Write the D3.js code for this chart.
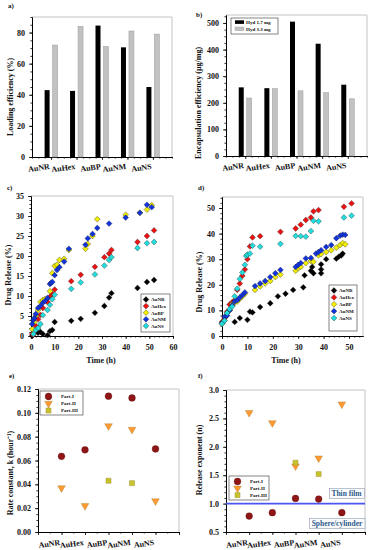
<!DOCTYPE html>
<html>
<head>
<meta charset="utf-8">
<script src="https://cdn.jsdelivr.net/npm/d3@7"></script>
<style>
body { margin: 0; background: #fff; }
svg { display: block; }
text { font-family: "Liberation Serif", "Times New Roman", serif; font-weight: bold; fill: #111; }
</style>
</head>
<body>
<div id="chart"></div>
<script>
// categories
const materials = ["AuNR", "AuHex", "AuBP", "AuNM", "AuNS"];
const barSeries = ["Hyd 1.7 mg", "Hyd 3.3 mg"];

// a) loading efficiency (%)
const loadHyd17 = [43, 42.5, 84.5, 70.5, 45];
const loadHyd33 = [72, 84, 71, 81, 79];
// b) encapsulation efficiency (ug/mg)
const encHyd17 = [258, 255, 505, 422, 268];
const encHyd33 = [218, 253, 245, 238, 215];

// c) drug release, [time h, release %]
const cAuNR = [[0.5,0],[3,0.8],[4,1],[5,0.5],[7,0.2],[8,1.2],[9,1.5],[10,3.5],[17,3.8],[21,4.3],[27,5.8],[31,7.5],[33,9.6],[34,10.7],[45,12],[49,13.5],[52,14]];
const cAuHex = [[0.5,0.5],[1,0.3],[2,2.5],[3,4.2],[4,5.3],[5,7],[7,8.5],[8,9.8],[9,10.5],[10,11.6],[17,13.7],[21,15.3],[27,17.3],[31,19.7],[33,20.6],[34,21.5],[45,23.5],[49,25],[52,26.4]];
const cAuBP = [[0.5,1.7],[1.5,3.5],[2,5],[3,6.5],[4,8.5],[5,9],[6,9.3],[8,11.2],[9,15.7],[10,17.5],[11,17.8],[12,19],[14,19.3],[16,21.5],[23,21.8],[24,23],[26,25],[28,29.2],[40,30.3],[46,30.8],[49,31.6],[51,32.7]];
const cAuNM = [[0.5,3],[1,4],[1.5,4.5],[2,5.5],[3,7],[4,7.5],[5,8.3],[6,8.8],[7,9.5],[8,13],[8.5,13.3],[9,13.5],[10,15.2],[11,16.5],[12,17.2],[14,18.6],[16,21.8],[23,22.8],[24,24.4],[26,25.5],[28,27],[33,28.1],[40,29.6],[46,30.8],[49,32.8],[51,32.2]];
const cAuNS = [[1,0.5],[2,1.5],[3,2],[4,3],[5,5.2],[7,6.5],[8,7.8],[9,9.2],[10,10.3],[17,11.8],[21,13.4],[27,15.4],[31,17.6],[33,19],[34,19.7],[45,22],[49,23.2],[52,23.5]];

// d) drug release, [time h, release %]
const dAuNR = [[5,5.5],[7,7],[10,6.3],[11,9.5],[12,9.2],[15,11.3],[19,12.8],[22,15.5],[25,16.5],[28,18],[32,19],[32.5,23.7],[35,25.5],[35.5,27],[36,24.5],[39,28],[39,26],[39,24.5],[41,30],[45,30.2],[46,31],[47,31.5],[47.5,32.2]];
const dAuHex = [[0,5.5],[1,7],[2,9.5],[3,12.3],[4,13.2],[5,14],[6,18],[7,20.5],[8,23.5],[9,26],[10,30],[11,35],[12,38.5],[15,39],[23,40.7],[29,42],[31,43.5],[33,45.3],[35,46.3],[36,48.7],[38,49.2],[48,50.5],[51,51.8]];
const dAuBP = [[0,4.8],[1,6],[2,9],[3,10],[4,12.5],[5,13],[6,13.5],[7,14.5],[8,15.5],[9,16.5],[13,18],[15,19.3],[17,20.5],[19,21.5],[21,23],[23,24],[29,25.5],[30,26.5],[31,27],[33,28.5],[35,29.3],[36,29],[38,31.5],[39,32],[41,32.8],[43,33.5],[45,34.5],[46.5,35.5],[47.5,36.3],[48.5,35.8]];
const dAuNM = [[0,5],[1,7.5],[2,8],[3,10],[4,12],[5,13.5],[6,14],[7,15],[8,16],[9,17],[13,19.5],[15,20.5],[17,21.5],[19,23],[21,24.5],[23,25.8],[29,27],[30,27.8],[31,28.5],[33,30.3],[35,30.5],[37,32.2],[38,32.8],[39,33.5],[41,34.8],[43,35.5],[45,38.2],[46.5,39.2],[47.5,39.6],[48.5,39.5]];
const dAuNS = [[0,4.8],[1,6],[2,9],[3,10.5],[4,11.5],[5,15.5],[6,18.5],[7,22.3],[8,24.8],[9,27.8],[9.5,31.3],[10,31.8],[11,32.2],[12,35.3],[15,34.9],[23,36],[29,39.1],[31,39],[33,38.8],[35,41],[36,45],[38,44.8],[48,46.3],[51,47]];

// e) rate constant k (1/hour), f) release exponent n
const parts = ["Part-I", "Part-II", "Part-III"];
const kPart1 = [0.0635, 0.069, 0.114, 0.1125, 0.0697];
const kPart2 = [0.037, 0.022, 0.089, 0.086, 0.026];
const kPart3 = [null, null, 0.043, 0.041, null];
const nPart1 = [0.78, 0.84, 1.09, 1.08, 0.84];
const nPart2 = [2.6, 2.42, 1.66, 1.8, 2.75];
const nPart3 = [null, null, 1.72, 1.52, null];

const matColors = ["#000000", "#ee1111", "#f2ee00", "#1133dd", "#22dddd"];
const partColors = ["#8e1616", "#ff9a33", "#c6c42c"];
const partShapes = [d3.symbolCircle, d3.symbolTriangle, d3.symbolSquare];

const svg = d3.select("#chart").append("svg")
	.attr("width", 373)
	.attr("height", 550);

// frame, axes and titles for one panel
function makePanel(p) {
	const x = d3.scaleLinear().domain(p.xd).range([p.l, p.r]);
	const y = d3.scaleLinear().domain(p.yd).range([p.b, p.t]);
	const g = svg.append("g");

	g.append("path")
		.attr("d", `M${p.l},${p.t}H${p.r}V${p.b}`)
		.attr("fill", "none")
		.attr("stroke", "#c4c4c4")
		.attr("stroke-width", 1);

	// minor ticks
	g.append("g")
		.attr("transform", `translate(${p.l},0)`)
		.call(d3.axisLeft(y).tickValues(d3.range(p.yd[0], p.yd[1] + 1e-9, p.ym)).tickSize(1.6).tickSizeOuter(0).tickFormat(""));
	g.append("g")
		.attr("transform", `translate(0,${p.b})`)
		.call(d3.axisBottom(x).tickValues(d3.range(p.xd[0], p.xd[1] + 1e-9, p.xm)).tickSize(1.6).tickSizeOuter(0).tickFormat(""));

	// major ticks
	const yAxis = g.append("g")
		.attr("transform", `translate(${p.l},0)`)
		.call(d3.axisLeft(y).tickValues(p.yt).tickSize(3).tickSizeOuter(0).tickPadding(4).tickFormat(p.yf));
	const xAxis = g.append("g")
		.attr("transform", `translate(0,${p.b})`)
		.call(d3.axisBottom(x).tickValues(p.xt).tickSize(3).tickSizeOuter(0).tickPadding(5).tickFormat(p.xf || ""));

	g.selectAll(".domain").attr("stroke", "#000").attr("stroke-width", 1);
	g.selectAll(".tick line").attr("stroke", "#000").attr("stroke-width", 0.8);
	yAxis.selectAll("text").style("font-size", "8px");
	xAxis.selectAll("text").style("font-size", "8px");

	// category labels, slightly tilted
	if (p.cats) {
		g.selectAll(".cat")
			.data(materials)
			.join("text")
			.attr("class", "cat")
			.attr("text-anchor", "end")
			.attr("transform", (d, i) => `translate(${x(i + 1) - 1},${p.b + p.catDy}) rotate(-8)`)
			.style("font-size", "8px")
			.text(d => d);
	}

	g.append("text")
		.attr("transform", `translate(${p.ytx},${p.yty}) rotate(-90)`)
		.attr("text-anchor", "middle")
		.attr("dy", "0.35em")
		.style("font-size", "8px")
		.text(p.ytitle);

	if (p.xtitle) {
		g.append("text")
			.attr("x", p.xtx)
			.attr("y", p.xty)
			.attr("text-anchor", "middle")
			.style("font-size", "8px")
			.text(p.xtitle);
	}

	g.append("text")
		.attr("x", p.lx)
		.attr("y", p.ly)
		.style("font-size", "7px")
		.text(p.label);

	return { g, x, y };
}

function legendBox(g, x0, y0, w, h) {
	g.append("rect")
		.attr("x", x0).attr("y", y0)
		.attr("width", w).attr("height", h)
		.attr("fill", "#fff")
		.attr("stroke", "#333")
		.attr("stroke-width", 0.6);
}

// ---------- bar panels a, b ----------
function barPanel(p, black, grey, withLegend) {
	const { g, x, y } = makePanel(p);
	const bw = 5, gap = 3;
	g.selectAll(".b1").data(black).join("rect")
		.attr("x", (d, i) => x(i + 1) - gap / 2 - bw)
		.attr("y", d => y(d))
		.attr("width", bw)
		.attr("height", d => y(p.yd[0]) - y(d))
		.attr("fill", "#000");
	g.selectAll(".b2").data(grey).join("rect")
		.attr("x", (d, i) => x(i + 1) + gap / 2)
		.attr("y", d => y(d))
		.attr("width", bw)
		.attr("height", d => y(p.yd[0]) - y(d))
		.attr("fill", "#c2c2c2")
		.attr("stroke", "#9a9a9a")
		.attr("stroke-width", 0.5);

	if (withLegend) {
		legendBox(g, 231, 18, 47, 16);
		barSeries.forEach((s, i) => {
			g.append("rect")
				.attr("x", 235).attr("y", 20.3 + i * 6.7)
				.attr("width", 9).attr("height", 3.6)
				.attr("fill", i === 0 ? "#000" : "#c2c2c2")
				.attr("stroke", i === 0 ? "none" : "#999")
				.attr("stroke-width", 0.4);
			g.append("text")
				.attr("x", 246).attr("y", 24.3 + i * 6.7)
				.style("font-size", "5px")
				.text(s);
		});
	}
}

barPanel({
	l: 32, r: 172, t: 17, b: 157, xd: [0.25, 5.75], yd: [0, 90],
	xt: [1, 2, 3, 4, 5], xm: 0.25, yt: [0, 20, 40, 60, 80], ym: 5, yf: d3.format("d"),
	cats: true, catDy: 12,
	ytitle: "Loading efficiency (%)", ytx: 10, yty: 97,
	label: "a)", lx: 8, ly: 8
}, loadHyd17, loadHyd33, false);

barPanel({
	l: 226, r: 367, t: 15, b: 156, xd: [0.25, 5.75], yd: [0, 530],
	xt: [1, 2, 3, 4, 5], xm: 0.25, yt: [0, 100, 200, 300, 400, 500], ym: 25, yf: d3.format("d"),
	cats: true, catDy: 12,
	ytitle: "Encapsulation efficiency (µg/mg)", ytx: 198, yty: 103,
	label: "b)", lx: 196, ly: 17
}, encHyd17, encHyd33, true);

// ---------- release panels c, d ----------
function releasePanel(p, series, leg) {
	const { g, x, y } = makePanel(p);
	const diamond = d3.symbol().type(d3.symbolSquare).size(17);
	series.forEach((s, k) => {
		g.selectAll(".m" + k).data(s).join("path")
			.attr("d", diamond)
			.attr("transform", d => `translate(${x(d[0])},${y(d[1])}) rotate(45)`)
			.attr("fill", matColors[k])
			.attr("stroke", "#222")
			.attr("stroke-width", 0.35);
	});
	legendBox(g, leg.x, leg.y, leg.w, leg.h);
	materials.forEach((m, k) => {
		const ry = leg.y + 5.5 + k * leg.step;
		g.append("path")
			.attr("d", diamond)
			.attr("transform", `translate(${leg.x + 5},${ry}) rotate(45)`)
			.attr("fill", matColors[k])
			.attr("stroke", "#222")
			.attr("stroke-width", 0.35);
		g.append("text")
			.attr("x", leg.x + 10).attr("y", ry + 1.8)
			.style("font-size", "5px")
			.text(m);
	});
}

releasePanel({
	l: 31, r: 173, t: 196, b: 336, xd: [0, 60], yd: [0, 35],
	xt: [0, 10, 20, 30, 40, 50, 60], xm: 2, xf: d3.format("d"),
	yt: [0, 5, 10, 15, 20, 25, 30, 35], ym: 1, yf: d3.format("d"),
	ytitle: "Drug Release (%)", ytx: 8, yty: 275,
	xtitle: "Time (h)", xtx: 101, xty: 363,
	label: "c)", lx: 7, ly: 190
}, [cAuNR, cAuHex, cAuBP, cAuNM, cAuNS], { x: 141, y: 294, w: 29, h: 38, step: 6.6 });

releasePanel({
	l: 222, r: 363, t: 197, b: 336, xd: [0, 55.5], yd: [0, 54.3],
	xt: [0, 10, 20, 30, 40, 50], xm: 2, xf: d3.format("d"),
	yt: [0, 10, 20, 30, 40, 50], ym: 2, yf: d3.format("d"),
	ytitle: "Drug Release (%)", ytx: 199, yty: 282,
	xtitle: "Time (h)", xtx: 286, xty: 363,
	label: "d)", lx: 198, ly: 190
}, [dAuNR, dAuHex, dAuBP, dAuNM, dAuNS], { x: 329, y: 285, w: 28, h: 46, step: 6.9 });

// ---------- kinetics panels e, f ----------
function kineticsPanel(p, seriesList, leg) {
	const { g, x, y } = makePanel(p);
	if (p.refLine) {
		g.append("line")
			.attr("x1", p.l).attr("x2", p.r)
			.attr("y1", y(p.refLine)).attr("y2", y(p.refLine))
			.attr("stroke", "#4b57f0")
			.attr("stroke-width", 1.6);
		p.notes.forEach(n => {
			const t = g.append("text")
				.attr("x", n.x).attr("y", n.y)
				.attr("text-anchor", "middle")
				.style("font-size", "7.5px")
				.style("fill", "#2c5d8c")
				.text(n.text);
			const bb = t.node().getBBox();
			g.insert("rect", () => t.node())
				.attr("x", bb.x - 2).attr("y", bb.y - 0.5)
				.attr("width", bb.width + 4).attr("height", bb.height + 1)
				.attr("fill", "#fbfbfd")
				.attr("stroke", "#8d9bb0")
				.attr("stroke-width", 0.6);
		});
	}
	const sym = [
		d3.symbol().type(partShapes[0]).size(36),
		d3.symbol().type(partShapes[1]).size(26),
		d3.symbol().type(partShapes[2]).size(26)
	];
	seriesList.forEach((s, k) => {
		const pts = s.map((v, i) => [i + 1, v]).filter(d => d[1] !== null);
		g.selectAll(".p" + k).data(pts).join("path")
			.attr("d", sym[k])
			.attr("transform", d => `translate(${x(d[0])},${y(d[1])})${k === 1 ? " rotate(180)" : ""}`)
			.attr("fill", partColors[k])
			.attr("stroke", k === 0 ? "#5a0a0a" : "#9a7a2a")
			.attr("stroke-width", 0.35);
	});
	legendBox(g, leg.x, leg.y, leg.w, leg.h);
	parts.forEach((pt, k) => {
		const ry = leg.y + 5.5 + k * leg.step;
		g.append("path")
			.attr("d", sym[k])
			.attr("transform", `translate(${leg.x + 8.5},${ry})${k === 1 ? " rotate(180)" : ""}`)
			.attr("fill", partColors[k])
			.attr("stroke", k === 0 ? "#5a0a0a" : "#9a7a2a")
			.attr("stroke-width", 0.35);
		g.append("text")
			.attr("x", leg.x + 21).attr("y", ry + 1.8)
			.style("font-size", "5px")
			.text(pt);
	});
}

kineticsPanel({
	l: 38, r: 179, t: 389, b: 532, xd: [0, 6], yd: [0, 0.12],
	xt: [0, 1, 2, 3, 4, 5, 6], xm: 0.5,
	yt: [0, 0.02, 0.04, 0.06, 0.08, 0.10, 0.12], ym: 0.005, yf: d3.format(".2f"),
	cats: true, catDy: 13,
	ytitle: "Rate constant, k (hour⁻¹)", ytx: 10, yty: 473,
	label: "e)", lx: 9, ly: 378
}, [kPart1, kPart2, kPart3], { x: 40, y: 391, w: 43, h: 24, step: 7 });

kineticsPanel({
	l: 226, r: 365, t: 390, b: 532, xd: [0, 6], yd: [0.5, 3.0],
	xt: [0, 1, 2, 3, 4, 5, 6], xm: 0.5,
	yt: [0.5, 1.0, 1.5, 2.0, 2.5, 3.0], ym: 0.1, yf: d3.format(".1f"),
	cats: true, catDy: 13,
	ytitle: "Release exponent (n)", ytx: 199, yty: 460,
	label: "f)", lx: 198, ly: 378,
	refLine: 1.0,
	notes: [{ text: "Thin film", x: 346.5, y: 496 }, { text: "Sphere/cylinder", x: 337, y: 526 }]
}, [nPart1, nPart2, nPart3], { x: 229, y: 476, w: 40, h: 24, step: 6.8 });
</script>
</body>
</html>
